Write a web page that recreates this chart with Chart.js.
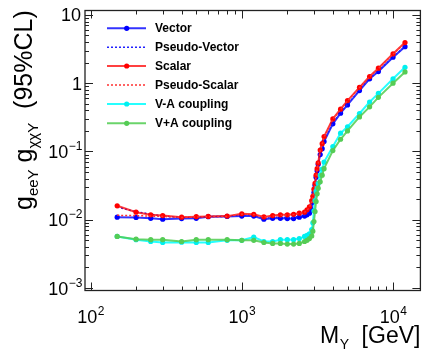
<!DOCTYPE html>
<html>
<head>
<meta charset="UTF-8">
<title>Limits</title>
<script src="https://cdn.jsdelivr.net/npm/chart.js"></script>
<style>
    html, body { margin: 0; padding: 0; background: #fff; }
    #wrap { width: 423px; height: 352px; }
</style>
</head>
<body>
<div id="wrap"><canvas id="limChart" width="423" height="352"></canvas></div>
<script>
    // masses (GeV)
    const masses = [150, 200, 250, 300, 400, 500, 600, 800, 1000, 1200, 1400, 1600, 1800, 2000, 2200, 2400, 2600,
        2700, 2800, 2900, 2950, 3000, 3050, 3100, 3150, 3200, 3300, 3400, 3500, 4000, 4500, 5000, 6000, 7000, 8000, 10000, 12000];

    const vector = [0.0109, 0.0108, 0.0105, 0.0102, 0.0104, 0.0105, 0.0111, 0.0112, 0.0113, 0.0113, 0.0102, 0.0105, 0.0105, 0.0104, 0.0104, 0.0109, 0.0113,
        0.0118, 0.0125, 0.014, 0.018, 0.025, 0.032, 0.042, 0.052, 0.065, 0.09, 0.11, 0.14, 0.254, 0.364, 0.48, 0.78, 1.16, 1.48, 2.40, 3.43];
    const pseudoVector = [0.0153, 0.0131, 0.0121, 0.0113, 0.0108, 0.0108, 0.0111, 0.0112, 0.0116, 0.0116, 0.0105, 0.0108, 0.0109, 0.0108, 0.0109, 0.0113, 0.0118,
        0.0125, 0.0138, 0.017, 0.020, 0.026, 0.033, 0.043, 0.054, 0.066, 0.095, 0.115, 0.145, 0.26, 0.37, 0.49, 0.79, 1.17, 1.5, 2.42, 3.46];
    const scalar = [0.0160, 0.0129, 0.0118, 0.0115, 0.0109, 0.0111, 0.0112, 0.0113, 0.0122, 0.0120, 0.0110, 0.0115, 0.0118, 0.0118, 0.0120, 0.0125, 0.0129,
        0.0140, 0.0155, 0.019, 0.022, 0.028, 0.034, 0.045, 0.056, 0.068, 0.105, 0.13, 0.165, 0.30, 0.416, 0.556, 0.87, 1.25, 1.66, 2.69, 3.93];
    const pseudoScalar = [0.0116, 0.0115, 0.0113, 0.0112, 0.0108, 0.0110, 0.0111, 0.0112, 0.0121, 0.0119, 0.0109, 0.0113, 0.0116, 0.0117, 0.0119, 0.0124, 0.0128,
        0.0138, 0.0152, 0.0185, 0.0215, 0.0275, 0.034, 0.044, 0.055, 0.067, 0.103, 0.128, 0.162, 0.295, 0.41, 0.55, 0.86, 1.24, 1.64, 2.66, 3.88];
    const vMinusA = [0.0057, 0.0051, 0.0048, 0.00464, 0.0047, 0.00464, 0.00464, 0.0050, 0.0050, 0.00556, 0.0048, 0.0048, 0.0051, 0.0051, 0.0051, 0.0053, 0.0057,
        0.0059, 0.0062, 0.0072, 0.009, 0.0135, 0.019, 0.026, 0.029, 0.034, 0.045, 0.055, 0.070, 0.118, 0.185, 0.23, 0.36, 0.53, 0.71, 1.16, 1.71];
    const vPlusA = [0.0057, 0.0052, 0.0051, 0.0051, 0.0048, 0.0051, 0.0051, 0.0051, 0.0050, 0.0050, 0.00464, 0.0045, 0.0045, 0.0044, 0.0044, 0.0045, 0.0048,
        0.0050, 0.0053, 0.0058, 0.0068, 0.0094, 0.0132, 0.0185, 0.024, 0.029, 0.036, 0.045, 0.056, 0.103, 0.151, 0.20, 0.32, 0.45, 0.62, 1.0, 1.46];

    const labels = ['Vector', 'Pseudo-Vector', 'Scalar', 'Pseudo-Scalar', 'V-A coupling', 'V+A coupling'];
    const xDecades = [2, 3, 4];
    const yDecades = [1, 0, -1, -2, -3];

    const FONT = '"Liberation Sans", Arial, Helvetica, sans-serif';

    function pts(ys) {
        return masses.map((m, i) => ({ x: m, y: ys[i] }));
    }

    function series(label, ys, line, marker, dotted) {
        return {
            label: label,
            data: pts(ys),
            showLine: true,
            borderColor: line,
            borderWidth: dotted ? 1.5 : 2,
            borderDash: dotted ? [2, 2] : [],
            pointRadius: dotted ? 0 : 2.6,
            pointBackgroundColor: marker,
            pointBorderWidth: 0,
            pointHoverRadius: 0,
            tension: 0
        };
    }

    const datasets = [
        series(labels[0], vector, 'rgba(0,0,255,0.8)', '#0000ff', false),
        series(labels[1], pseudoVector, '#2020ff', '#0000ff', true),
        series(labels[2], scalar, 'rgba(255,0,0,0.75)', '#ff0000', false),
        series(labels[3], pseudoScalar, '#ff3030', '#ff0000', true),
        series(labels[4], vMinusA, 'rgba(0,255,255,0.85)', '#00f0f0', false),
        series(labels[5], vPlusA, 'rgba(80,205,80,0.85)', '#55cc55', false)
    ];
    // later series on top, like ROOT
    datasets.forEach((d, i) => { d.order = 10 - i; });

    // base "10" with exponent
    function drawPow(ctx, exp, x, y, align) {
        const big = '18px ' + FONT, small = '12px ' + FONT;
        ctx.font = big;
        const wb = ctx.measureText('10').width;
        ctx.font = small;
        const es = exp === null ? '' : String(exp).replace('-', '\u2212');
        const we = ctx.measureText(es).width;
        let x0 = x;
        if (align === 'center') x0 = x - (wb + we) / 2;
        if (align === 'right') x0 = x - (wb + we);
        ctx.textAlign = 'left';
        ctx.textBaseline = 'alphabetic';
        ctx.font = big;
        ctx.fillText('10', x0, y);
        ctx.font = small;
        ctx.fillText(es, x0 + wb + 0.5, y - 8);
    }

    const rootStyle = {
        id: 'rootStyle',
        afterDraw(chart) {
            const ctx = chart.ctx;
            const a = chart.chartArea;
            const xs = chart.scales.x, ys = chart.scales.y;
            ctx.save();
            ctx.strokeStyle = '#222';
            ctx.fillStyle = '#000';

            // frame
            ctx.lineWidth = 1.3;
            ctx.strokeRect(a.left, a.top, a.right - a.left, a.bottom - a.top);

            // ticks inside the frame
            ctx.lineWidth = 1;
            ctx.beginPath();
            for (let k = 1; k <= 4; k++) {
                for (let m = 1; m <= 9; m++) {
                    const v = m * Math.pow(10, k);
                    if (v < xs.min || v > xs.max) continue;
                    const px = Math.round(xs.getPixelForValue(v)) + 0.5;
                    const len = m === 1 ? 8 : 4;
                    ctx.moveTo(px, a.bottom); ctx.lineTo(px, a.bottom - len);
                    ctx.moveTo(px, a.top); ctx.lineTo(px, a.top + len);
                }
            }
            for (let k = -4; k <= 1; k++) {
                for (let m = 1; m <= 9; m++) {
                    const v = m * Math.pow(10, k);
                    if (v < ys.min || v > ys.max) continue;
                    const py = Math.round(ys.getPixelForValue(v)) + 0.5;
                    const len = m === 1 ? 8 : 4;
                    ctx.moveTo(a.left, py); ctx.lineTo(a.left + len, py);
                    ctx.moveTo(a.right, py); ctx.lineTo(a.right - len, py);
                }
            }
            ctx.stroke();

            // tick labels
            xDecades.forEach(k => {
                drawPow(ctx, k, xs.getPixelForValue(Math.pow(10, k)), 323, 'center');
            });
            yDecades.forEach(k => {
                const py = ys.getPixelForValue(Math.pow(10, k)) + 6.5;
                if (k === 0) {
                    ctx.font = '18px ' + FONT;
                    ctx.textAlign = 'right';
                    ctx.fillText('1', 82, py);
                } else if (k === 1) {
                    ctx.font = '18px ' + FONT;
                    ctx.textAlign = 'right';
                    ctx.fillText('10', 81, py);
                } else {
                    drawPow(ctx, k, 82, py, 'right');
                }
            });

            // x title
            ctx.textAlign = 'left';
            const bigT = '23px ' + FONT, subT = '14px ' + FONT;
            ctx.font = bigT;
            const wGeV = ctx.measureText('[GeV]').width;
            const wM = ctx.measureText('M').width;
            ctx.font = subT;
            const wY = ctx.measureText('Y').width;
            const xEnd = a.right;
            const xGeV = xEnd - wGeV;
            const xM = xGeV - 13 - wY - wM;
            ctx.font = bigT;
            ctx.fillText('M', xM, 343);
            ctx.fillText('[GeV]', xGeV, 343);
            ctx.font = subT;
            ctx.fillText('Y', xM + wM + 0.5, 349);

            // y title (rotated)
            ctx.translate(32, 210);
            ctx.rotate(-Math.PI / 2);
            const bigY = '25px ' + FONT, subY = '15px ' + FONT;
            const parts = [
                ['g', bigY, 0], ['eeY', subY, 6], [' ', bigY, 0],
                ['g', bigY, 0], ['\u03c7\u03c7Y', subY, 6], ['  (95%CL)', bigY, 0]
            ];
            let cx = 0;
            parts.forEach(p => {
                ctx.font = p[1];
                ctx.fillText(p[0], cx, p[2]);
                cx += ctx.measureText(p[0]).width;
            });
            ctx.restore();

            // legend
            ctx.save();
            const rowY = [28.3, 47.3, 66, 85, 104, 123.3];
            chart.data.datasets.forEach((d, i) => {
                const y = rowY[i];
                ctx.strokeStyle = d.borderColor;
                ctx.lineWidth = d.borderWidth;
                ctx.setLineDash(d.borderDash);
                ctx.beginPath();
                ctx.moveTo(107, y); ctx.lineTo(146, y);
                ctx.stroke();
                ctx.setLineDash([]);
                if (d.pointRadius > 0) {
                    ctx.fillStyle = d.pointBackgroundColor;
                    ctx.beginPath();
                    ctx.arc(126.7, y, d.pointRadius, 0, 2 * Math.PI);
                    ctx.fill();
                }
                ctx.fillStyle = '#000';
                ctx.font = 'bold 12px ' + FONT;
                ctx.textAlign = 'left';
                ctx.textBaseline = 'middle';
                ctx.fillText(d.label, 155, y + 0.5);
            });
            ctx.restore();
        }
    };

    new Chart(document.getElementById('limChart'), {
        type: 'scatter',
        data: { datasets: datasets },
        options: {
            responsive: false,
            animation: false,
            layout: { padding: { left: 85, right: 1.5, top: 10.5, bottom: 61.5 } },
            plugins: { legend: { display: false }, tooltip: { enabled: false } },
            scales: {
                x: { type: 'logarithmic', min: 91.9, max: 15170, display: false },
                y: { type: 'logarithmic', min: 0.00092, max: 11.6, display: false }
            }
        },
        plugins: [rootStyle]
    });
</script>
</body>
</html>
